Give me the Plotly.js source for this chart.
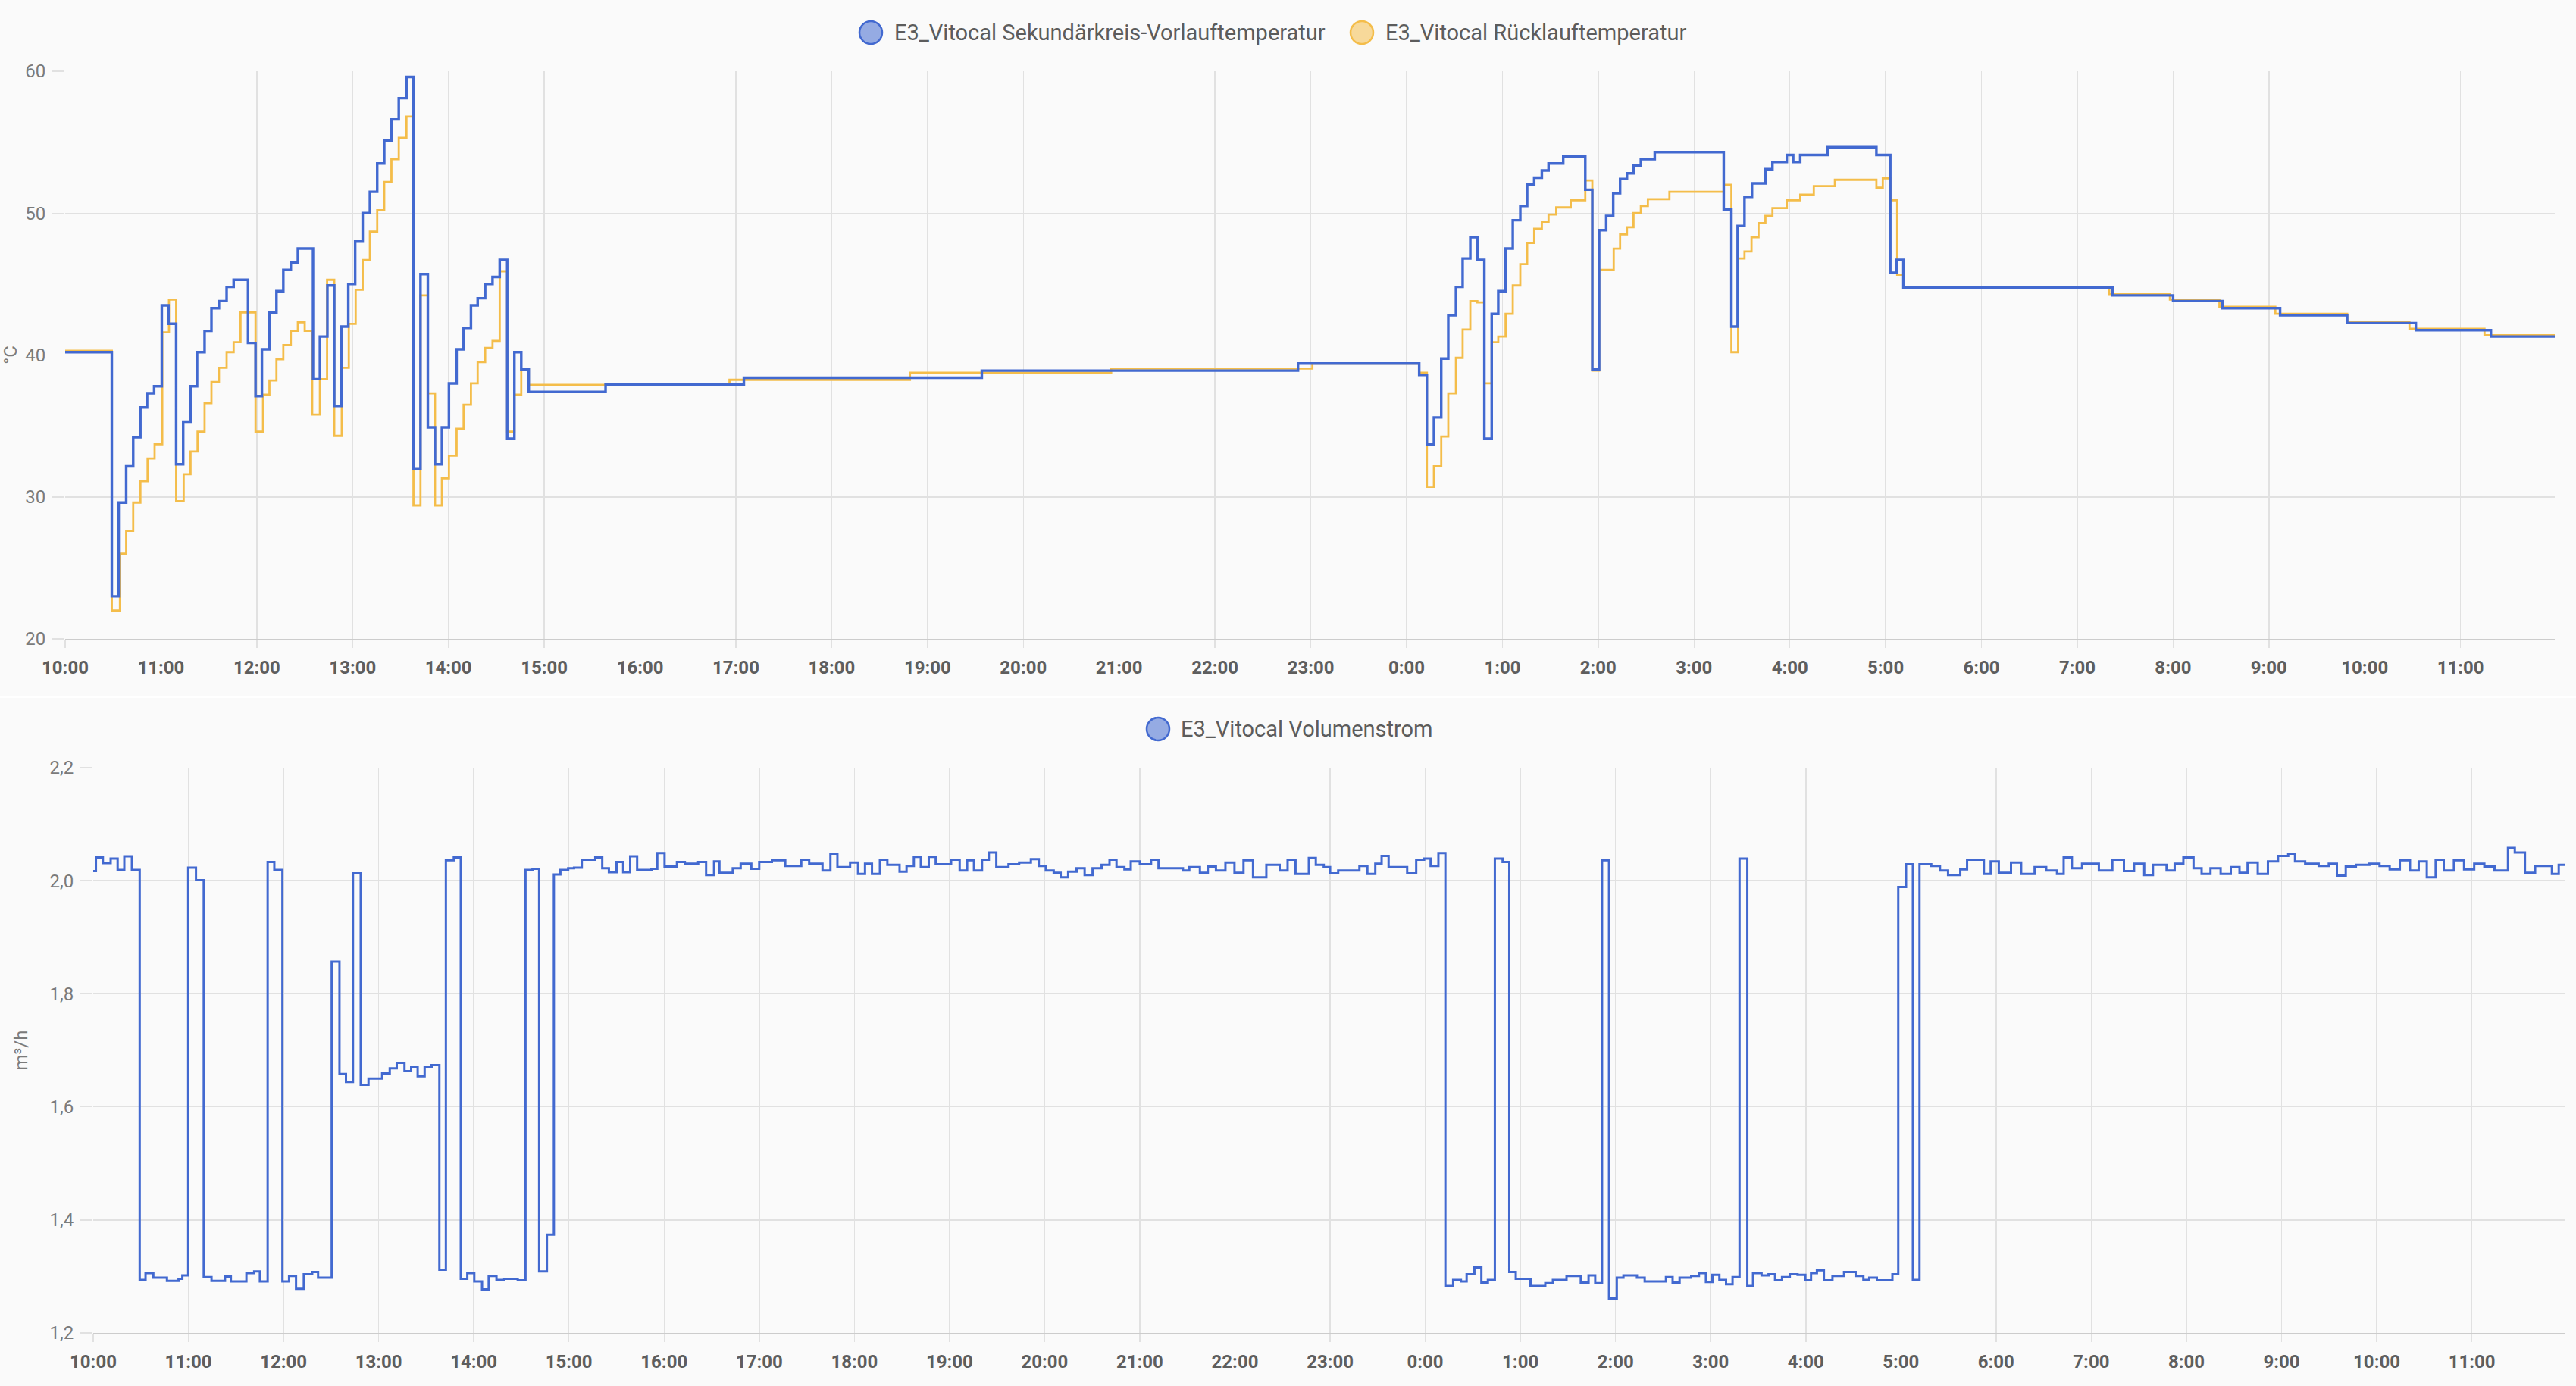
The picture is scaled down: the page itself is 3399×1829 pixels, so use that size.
<!DOCTYPE html>
<html>
<head>
<meta charset="utf-8">
<script src="https://cdn.plot.ly/plotly-3.0.1.min.js"></script>
<style>
html,body{margin:0;padding:0;background:#ffffff;width:3399px;height:1829px;overflow:hidden}
#top{position:absolute;left:0;top:0;width:3399px;height:918px}
#bottom{position:absolute;left:0;top:921px;width:3399px;height:908px}
</style>
</head>
<body>
<div id="top"></div>
<div id="bottom"></div>
<script>
// ---------------- DATA ----------------
// time stamps are minutes after the first sample (10:00)
const startTime = Date.UTC(2025, 0, 14, 10, 0, 0);
const viewMinutes = 1559;

const supplyName = 'E3_Vitocal Sekundärkreis-Vorlauftemperatur';
const returnName = 'E3_Vitocal Rücklauftemperatur';
const flowName = 'E3_Vitocal Volumenstrom';

const supplyMinutes = [0,29.2,33.5,38.2,42.6,47.1,51.3,55.7,60.5,64.7,
  69.5,73.9,78.5,82.6,87.3,91.6,96.3,101.1,105.5,114.5,
  119.2,123.2,127.9,132.3,136.6,141.3,145.7,155.2,159.5,164.2,
  168.5,172.9,177.3,181.6,186.3,190.8,195.4,199.8,204.3,208.9,
  213.7,218.1,222.5,227.1,231.6,235.9,240.3,245.1,249.5,254.1,
  258.3,263.0,267.6,272.1,276.8,281.3,285.6,290.3,338.4,425,
  574,772,847.9,852.7,857.1,861.7,866.1,870.9,875.1,879.9,
  884.3,888.7,893.3,897.4,902.0,906.5,911.2,915.5,919.9,924.7,
  928.9,938.1,951.9,956.3,960.6,965.0,969.4,973.7,978.0,982.1,
  986.7,995.4,1038.6,1043.4,1047.3,1051.6,1056.3,1064.7,1069.1,1078.1,
  1082.1,1086.5,1103.7,1134.2,1142.9,1146.9,1151.1,1282,1320,1351,
  1387,1429,1472,1519,1560];
const supplyValues = [40.2,23.0,29.6,32.2,34.2,36.3,37.3,37.8,43.5,42.2,
  32.3,35.3,37.8,40.2,41.7,43.3,43.8,44.8,45.3,40.85,
  37.1,40.4,43.0,44.5,46.0,46.5,47.5,38.3,41.3,44.9,
  36.4,42.0,45.0,48.0,50.0,51.5,53.5,55.1,56.6,58.1,
  59.6,32.0,45.7,34.9,32.3,34.9,38.0,40.4,41.9,43.5,
  44.0,45.0,45.5,46.7,34.1,40.2,39.0,37.4,37.9,38.4,
  38.9,39.4,38.6,33.7,35.6,39.75,42.8,44.8,46.8,48.3,
  46.7,34.1,42.9,44.5,47.5,49.5,50.5,52.0,52.5,53.0,
  53.5,54.0,51.65,39.0,48.8,49.8,51.4,52.4,52.8,53.35,
  53.8,54.3,50.25,42.0,49.1,51.15,52.1,53.1,53.6,54.1,
  53.6,54.1,54.65,54.1,45.8,46.7,44.75,44.2,43.8,43.3,
  42.8,42.25,41.75,41.3,41.3];

const returnMinutes = [0,29.2,34.3,38.2,42.6,47.1,51.6,56.0,60.8,65.0,
  69.5,74.2,78.5,82.9,87.3,91.6,96.3,101.1,105.5,109.8,
  119.2,123.9,127.9,132.3,136.6,141.3,145.7,150.0,154.7,159.5,
  164.0,168.5,173.2,177.6,181.9,186.3,190.8,195.4,199.8,204.3,
  208.9,213.7,218.1,222.5,227.1,231.6,235.9,240.3,245.1,249.5,
  254.1,258.3,263.0,267.6,272.1,276.8,281.3,285.6,290.3,416,
  529,655,781,847.9,852.7,857.1,861.7,866.1,870.9,875.1,
  879.9,884.3,888.7,893.3,897.4,902.0,906.5,911.2,915.5,919.9,
  924.7,928.9,933.7,942.8,951.9,956.3,960.6,969.7,973.7,978.0,
  982.1,986.7,991.1,1004.6,1038.6,1043.4,1047.6,1051.6,1056.0,1060.4,
  1064.7,1069.1,1078.1,1086.5,1095.0,1108.2,1134.2,1138.2,1142.9,1147.2,
  1151.1,1280,1318,1349,1384,1429,1468,1515,1560];
const returnValues = [40.3,22.0,26.0,27.6,29.6,31.1,32.7,33.7,41.6,43.9,
  29.7,31.6,33.2,34.6,36.6,38.1,39.1,40.2,40.9,43.0,
  34.6,37.2,38.2,39.7,40.7,41.7,42.3,41.7,35.8,38.3,
  45.3,34.3,39.1,42.2,44.6,46.7,48.7,50.2,52.2,53.8,
  55.3,56.8,29.4,44.2,37.3,29.4,31.3,32.9,34.8,36.5,
  38.0,39.5,40.5,41.0,45.9,34.6,37.2,39.0,37.9,38.25,
  38.75,39.05,39.4,38.75,30.7,32.2,34.25,37.3,39.8,41.8,
  43.8,43.7,38.0,40.9,41.3,42.9,44.9,46.4,47.9,48.9,
  49.4,49.9,50.4,50.9,52.3,38.9,46.0,47.5,48.5,49.0,
  50.0,50.5,50.98,51.5,52.0,40.2,46.8,47.3,48.3,49.3,
  49.8,50.35,50.9,51.3,51.9,52.35,51.8,52.45,50.9,45.65,
  44.75,44.3,43.9,43.4,42.9,42.35,41.85,41.4,41.4];

const flowMinutes = [0,1.7,6.1,11.0,15.4,19.6,24.4,29.3,33.0,37.9,
  46.5,53.8,56.2,59.9,64.8,69.7,74.6,83.1,86.8,96.6,
  101.5,105.1,110.0,114.2,119.3,123.5,127.9,132.8,138.1,141.8,
  150.4,155.3,159.4,163.8,168.7,173.6,182.2,187.0,191.4,196.3,
  200.5,204.6,209.0,213.4,218.3,222.4,227.4,231.8,235.9,240.3,
  245.2,249.4,254.3,259.2,267.7,272.6,277.0,281.2,286.1,290.5,
  294.6,299.5,303.2,308.1,316.6,321.0,325.2,330.0,334.2,338.6,
  343.0,352.0,355.7,360.3,368.1,373.1,381.5,386.5,391.5,394.9,
  403.3,408.3,415.0,420.0,428.0,436.4,446.5,451.5,459.9,464.9,
  469.3,477.3,482.3,486.7,491.1,496.1,500.8,508.5,512.9,517.5,
  521.9,526.9,531.3,541.0,546.4,551.1,555.4,560.5,564.8,569.5,
  577.2,583.9,591.3,596.3,600.7,605.7,610.1,614.8,620.1,625.2,
  630.2,635.9,640.9,645.3,650.3,654.3,660.0,667.1,671.8,687.2,
  691.2,697.9,702.9,708.0,714.0,719.7,725.4,731.4,739.8,748.2,
  753.2,758.2,766.6,771.0,776.0,780.0,785.1,798.5,803.5,808.5,
  812.5,816.9,828.6,834.3,839.3,843.4,848.3,852.7,857.6,862.5,
  866.1,871.0,875.4,879.5,883.9,888.8,893.0,897.1,906.4,915.7,
  920.5,929.1,938.1,943.0,947.2,951.5,955.9,960.8,965.0,973.5,
  978.4,991.8,996.0,1000.4,1007.7,1012.6,1017.0,1021.1,1025.5,1029.7,
  1033.8,1038.2,1043.1,1046.7,1052.1,1056.5,1060.6,1065.0,1069.9,1074.8,
  1079.7,1083.3,1087.0,1091.4,1096.8,1104.1,1111.4,1116.3,1120.0,1124.8,
  1134.6,1138.3,1143.2,1147.5,1151.7,1159.1,1164.6,1169.7,1177.4,1181.7,
  1192.3,1196.6,1201.7,1209.4,1215.8,1224.3,1231.6,1238.4,1242.6,1247.8,
  1254.2,1264.8,1273.3,1280.6,1287.0,1293.4,1298.9,1307.5,1312.6,1318.1,
  1324.5,1329.6,1335.2,1341.6,1348.0,1353.5,1358.6,1365.0,1371.4,1377.8,
  1384.2,1388.5,1394.9,1403.4,1409.8,1414.9,1420.5,1426.9,1435.4,1441.8,
  1448.2,1454.6,1461.0,1466.5,1471.6,1477.2,1482.3,1488.7,1495.1,1501.5,
  1507.9,1514.3,1522.8,1527.1,1533.5,1539.9,1550.5,1554.8,1560];
const flowValues = [2.017,2.041,2.031,2.039,2.019,2.043,2.019,1.294,1.306,1.298,
  1.292,1.296,1.302,2.023,2.001,1.299,1.292,1.300,1.291,1.306,
  1.309,1.291,2.033,2.019,1.291,1.301,1.278,1.304,1.308,1.298,
  1.857,1.658,1.644,2.013,1.639,1.650,1.659,1.668,1.678,1.663,
  1.670,1.654,1.670,1.674,1.312,2.036,2.041,1.296,1.306,1.291,
  1.277,1.301,1.294,1.296,1.293,2.019,2.021,1.309,1.374,2.011,
  2.019,2.022,2.023,2.037,2.041,2.022,2.015,2.033,2.015,2.043,
  2.019,2.021,2.049,2.025,2.033,2.030,2.033,2.010,2.034,2.014,
  2.022,2.030,2.021,2.033,2.036,2.026,2.037,2.030,2.018,2.048,
  2.024,2.032,2.012,2.030,2.012,2.037,2.028,2.016,2.026,2.042,
  2.024,2.042,2.029,2.037,2.018,2.036,2.018,2.037,2.050,2.024,
  2.029,2.032,2.038,2.026,2.018,2.014,2.006,2.016,2.022,2.010,
  2.022,2.028,2.037,2.024,2.020,2.034,2.029,2.037,2.022,2.018,
  2.024,2.014,2.025,2.018,2.032,2.014,2.036,2.006,2.028,2.018,
  2.037,2.012,2.040,2.028,2.024,2.013,2.018,2.026,2.012,2.030,
  2.044,2.024,2.013,2.037,2.039,2.026,2.049,1.283,1.294,1.291,
  1.304,1.316,1.289,1.294,2.039,2.033,1.308,1.296,1.283,1.288,
  1.294,1.301,1.289,1.302,1.288,2.036,1.261,1.298,1.302,1.298,
  1.291,1.299,1.289,1.298,1.301,1.306,1.290,1.303,1.294,1.286,
  1.299,2.039,1.283,1.306,1.302,1.304,1.293,1.299,1.304,1.303,
  1.293,1.306,1.311,1.293,1.301,1.308,1.301,1.294,1.298,1.293,
  1.304,1.989,2.029,1.294,2.029,2.026,2.018,2.010,2.020,2.037,
  2.012,2.034,2.014,2.032,2.012,2.024,2.018,2.012,2.041,2.022,
  2.030,2.018,2.037,2.017,2.030,2.010,2.028,2.018,2.030,2.041,
  2.022,2.012,2.022,2.012,2.024,2.014,2.032,2.012,2.034,2.044,
  2.048,2.034,2.030,2.026,2.030,2.009,2.025,2.028,2.030,2.026,
  2.020,2.036,2.018,2.034,2.006,2.037,2.018,2.036,2.020,2.030,
  2.025,2.018,2.058,2.050,2.014,2.026,2.012,2.028,2.028];

// ---------------- STYLE ----------------
const BLUE = '#4269d0';
const YELLOW = '#f4bd4a';
const FONT = 'Roboto, sans-serif';
const GRID = '#e1e1e1';
const BG = '#fafafa';

function toTime(m) {
  return new Date(startTime + m * 60000).toISOString().slice(0, 19).replace('T', ' ');
}

function makeXAxis() {
  return {
    type: 'date',
    range: [toTime(0), toTime(viewMinutes)],
    tick0: toTime(0),
    dtick: 3600000,
    tickformat: '%-H:%M',
    showgrid: true, gridcolor: GRID, gridwidth: 1.5,
    ticks: 'outside', ticklen: 10, tickcolor: GRID, tickwidth: 1.5,
    ticklabelstandoff: 5,
    tickfont: {family: FONT, size: 24, color: '#5e5e5e', weight: 'bold'},
    showline: true, linecolor: '#cccccc', linewidth: 2,
    zeroline: false, fixedrange: true
  };
}

function makeYAxis(range, dtick, title, fmt) {
  return {
    range: range, dtick: dtick, tick0: 0,
    tickformat: fmt,
    showgrid: true, gridcolor: GRID, gridwidth: 1.5,
    ticks: 'outside', ticklen: 16, tickcolor: GRID, tickwidth: 1.5,
    ticklabelstandoff: 4,
    tickfont: {family: FONT, size: 24, color: '#7b7b7b'},
    showline: false, zeroline: false, fixedrange: true,
    title: {text: title, font: {family: FONT, size: 24, color: '#7b7b7b'}, standoff: 22}
  };
}

// custom legend: circle marker + label at given pixel positions of the figure
function legend(items, W, H, m) {
  const pw = W - m.l - m.r, ph = H - m.t - m.b;
  const px = x => (x - m.l) / pw;
  const py = y => 1 - (y - m.t) / ph;
  const shapes = [], annotations = [];
  items.forEach(it => {
    shapes.push({
      type: 'circle', xref: 'paper', yref: 'paper',
      xsizemode: 'pixel', ysizemode: 'pixel',
      xanchor: px(it.cx), yanchor: py(it.cy),
      x0: -15, x1: 15, y0: -15, y1: 15,
      fillcolor: it.fill, line: {color: it.color, width: 2.5}
    });
    annotations.push({
      xref: 'paper', yref: 'paper', x: px(it.tx), y: py(it.cy),
      xanchor: 'left', yanchor: 'middle', showarrow: false,
      text: it.name, font: {family: FONT, size: 29, color: '#5c5c5c'}
    });
  });
  return {shapes, annotations};
}

// ---------------- TOP CHART ----------------
const topW = 3399, topH = 918;
const topM = {l: 86, r: 28, t: 94, b: 75};
const topLeg = legend([
  {cx: 1149, cy: 43, tx: 1178, name: supplyName, color: BLUE, fill: 'rgba(66,105,208,0.55)'},
  {cx: 1797, cy: 43, tx: 1826, name: returnName, color: YELLOW, fill: 'rgba(244,189,74,0.55)'}
], topW, topH, topM);

const topTraces = [
  {
    x: returnMinutes.map(toTime), y: returnValues, name: returnName,
    type: 'scatter', mode: 'lines', line: {shape: 'hv', color: YELLOW, width: 2.8},
    showlegend: false
  },
  {
    x: supplyMinutes.map(toTime), y: supplyValues, name: supplyName,
    type: 'scatter', mode: 'lines', line: {shape: 'hv', color: BLUE, width: 3.4},
    showlegend: false
  }
];

Plotly.newPlot('top', topTraces, {
  width: topW, height: topH,
  margin: topM,
  paper_bgcolor: BG, plot_bgcolor: BG,
  font: {family: FONT},
  separators: ',.',
  xaxis: makeXAxis(),
  yaxis: makeYAxis([20, 60], 10, '°C', 'd'),
  shapes: topLeg.shapes,
  annotations: topLeg.annotations,
  showlegend: false
}, {staticPlot: true, displayModeBar: false});

// ---------------- BOTTOM CHART ----------------
const botW = 3399, botH = 908;
const botM = {l: 123, r: 14, t: 92, b: 70};
const botLeg = legend([
  {cx: 1528, cy: 41, tx: 1556, name: flowName, color: BLUE, fill: 'rgba(66,105,208,0.55)'}
], botW, botH, botM);

const botTraces = [
  {
    x: flowMinutes.map(toTime), y: flowValues, name: flowName,
    type: 'scatter', mode: 'lines', line: {shape: 'hv', color: BLUE, width: 3},
    showlegend: false
  }
];

Plotly.newPlot('bottom', botTraces, {
  width: botW, height: botH,
  margin: botM,
  paper_bgcolor: BG, plot_bgcolor: BG,
  font: {family: FONT},
  separators: ',.',
  xaxis: makeXAxis(),
  yaxis: makeYAxis([1.2, 2.2], 0.2, 'm³/h', '.1f'),
  shapes: botLeg.shapes,
  annotations: botLeg.annotations,
  showlegend: false
}, {staticPlot: true, displayModeBar: false});
</script>
</body>
</html>
